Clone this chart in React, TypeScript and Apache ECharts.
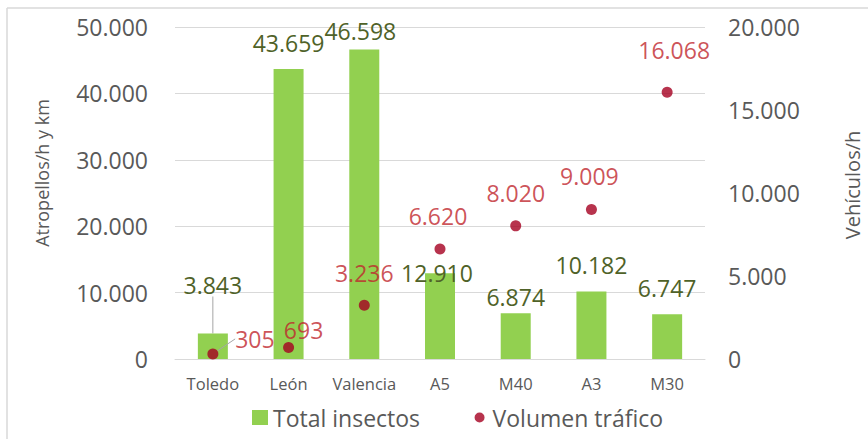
import React, { useEffect, useRef } from "react";
import * as echarts from "echarts";

const categories = ["Toledo", "León", "Valencia", "A5", "M40", "A3", "M30"];
const totalInsectos = [3843, 43659, 46598, 12910, 6874, 10182, 6747];
const volumenTrafico = [305, 693, 3236, 6620, 8020, 9009, 16068];
const leftTicks = { min: 0, max: 50000, interval: 10000 };
const rightTicks = { min: 0, max: 20000, interval: 5000 };

// label nudges (styling, in px)
const barLabelShift = [
  [0, -32],
  [0, -10],
  [-4, -2],
  [-3, 16],
  [0, 0],
  [0, -10],
  [0, -10],
];
const dotLabelShift = [
  [42, 7],
  [15, 5],
  [0, -10],
  [-2, -11],
  [0, -11],
  [-2, -11],
  [7, -20],
];

const FONT = "Open Sans";
const GRAY = "#595959";
const fmt = (v: number) => String(v).replace(/\B(?=(\d{3})+(?!\d))/g, ".");

export default function App() {
  const ref = useRef<HTMLDivElement>(null);
  useEffect(() => {
    if (!ref.current) return;
    const chart = echarts.init(ref.current, undefined, { renderer: "svg" });
    chart.setOption({
      animation: false,
      backgroundColor: "#ffffff",
      textStyle: { fontFamily: FONT },
      graphic: [
        { type: "line", shape: { x1: 7, y1: 8, x2: 7, y2: 439 }, style: { stroke: "#d9d9d9", lineWidth: 1.5 } },
        { type: "line", shape: { x1: 7, y1: 8, x2: 868, y2: 8 }, style: { stroke: "#d9d9d9", lineWidth: 1.5 } },
      ],
      grid: { left: 175, right: 163, top: 27, bottom: 80, containLabel: false, outerBoundsMode: "none" },
      legend: {
        top: 401,
        left: 247,
        itemWidth: 16,
        itemHeight: 15,
        itemGap: 52,
        textStyle: { fontFamily: FONT, fontSize: 23, color: GRAY },
        data: [
          { name: "Total insectos", icon: "rect" },
          {
            name: "Volumen tráfico",
            icon: "path://M0,0L0.01,0M15,15L15.01,15M2.5,7.5a5,5 0 1,0 10,0a5,5 0 1,0 -10,0Z",
          },
        ],
      },
      xAxis: {
        type: "category",
        data: categories,
        axisTick: { show: false },
        axisLine: { show: true, lineStyle: { color: "#d9d9d9" } },
        axisLabel: { color: GRAY, fontSize: 16.5, margin: 16, fontFamily: FONT, interval: 0 },
      },
      yAxis: [
        {
          type: "value",
          ...leftTicks,
          name: "Atropellos/h y km",
          nameLocation: "middle",
          nameRotate: 90,
          nameGap: 124,
          nameTextStyle: { fontSize: 18, color: GRAY, fontFamily: FONT, padding: [0, 0, 0, 40] },
          axisLine: { show: false },
          axisTick: { show: false },
          axisLabel: { color: GRAY, fontSize: 23, margin: 27, formatter: fmt, fontFamily: FONT },
          splitLine: { lineStyle: { color: "#d9d9d9" } },
        },
        {
          type: "value",
          ...rightTicks,
          position: "right",
          name: "Vehículos/h",
          nameLocation: "middle",
          nameRotate: 90,
          nameGap: 137,
          nameTextStyle: { fontSize: 20, color: GRAY, fontFamily: FONT, padding: [0, 0, 0, 16] },
          axisLine: { show: false },
          axisTick: { show: false },
          axisLabel: { color: GRAY, fontSize: 23, margin: 23, formatter: fmt, fontFamily: FONT },
          splitLine: { show: false },
        },
      ],
      series: [
        {
          name: "Total insectos",
          type: "bar",
          yAxisIndex: 0,
          barWidth: 30,
          itemStyle: { color: "#92d050" },
          data: totalInsectos.map((v, i) =>
            i === 0 ? { value: v, labelLine: { show: true, lineStyle: { color: "#a6a6a6", width: 1 } } } : v
          ),
          label: {
            show: true,
            position: "top",
            distance: 5,
            color: "#4f6228",
            fontSize: 23,
            fontFamily: FONT,
            formatter: (p: any) => fmt(p.value),
          },
          labelLine: { show: false },
          labelLayout: (p: any) => ({ dx: barLabelShift[p.dataIndex][0], dy: barLabelShift[p.dataIndex][1] }),
        },
        {
          name: "Volumen tráfico",
          type: "scatter",
          yAxisIndex: 1,
          symbol: "circle",
          symbolSize: 11,
          itemStyle: { color: "#a50021" },
          z: 5,
          data: volumenTrafico.map((v, i) =>
            i === 0 ? { value: v, labelLine: { show: true, lineStyle: { color: "#a6a6a6", width: 1 } } } : v
          ),
          label: {
            show: true,
            position: "top",
            distance: 5,
            color: "#c0262d",
            fontSize: 23,
            fontFamily: FONT,
            formatter: (p: any) => fmt(p.value),
          },
          labelLine: { show: false },
          labelLayout: (p: any) => ({ dx: dotLabelShift[p.dataIndex][0], dy: dotLabelShift[p.dataIndex][1] }),
        },
      ],
    });
    return () => chart.dispose();
  }, []);
  return <div ref={ref} style={{ position: "absolute", left: 0, top: 0, width: 868, height: 439 }} />;
}
